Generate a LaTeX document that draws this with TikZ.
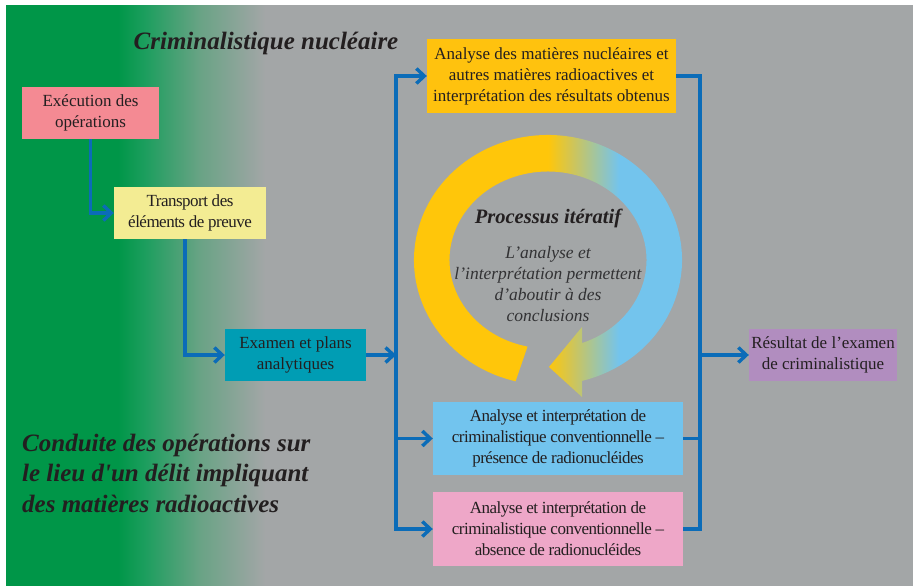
\documentclass[tikz,border=0pt]{standalone}
\usepackage{fontspec}
\setmainfont{Liberation Serif}
\newfontfamily\rawserif{Liberation Serif}[Ligatures=TeXOff]
\usetikzlibrary{arrows.meta}
\definecolor{bggreen}{RGB}{0,150,72}
\definecolor{bggreen2}{RGB}{28,158,94}
\definecolor{bggreen3}{RGB}{105,163,133}
\definecolor{bggray}{RGB}{163,166,167}
\definecolor{lineblue}{RGB}{11,108,184}
\definecolor{txt}{RGB}{35,31,32}
\definecolor{txttwo}{RGB}{50,50,52}
\definecolor{cexec}{RGB}{244,138,147}
\definecolor{ctransp}{RGB}{243,236,147}
\definecolor{cexam}{RGB}{0,157,180}
\definecolor{cnucl}{RGB}{255,194,14}
\definecolor{cpres}{RGB}{114,196,238}
\definecolor{cabs}{RGB}{238,167,200}
\definecolor{cres}{RGB}{177,141,191}
\definecolor{ringY}{RGB}{255,198,10}
\definecolor{ringB}{RGB}{115,196,237}
\pgfdeclarehorizontalshading{bgshade}{100bp}{color(0bp)=(bggreen); color(31.17bp)=(bggreen); color(32.66bp)=(bggreen2); color(35.69bp)=(bggreen3); color(39.28bp)=(bggray); color(100bp)=(bggray)}
\pgfdeclarehorizontalshading{ringshade}{100bp}{color(0bp)=(ringY); color(50bp)=(ringY); color(62bp)=(ringB); color(100bp)=(ringB)}
\tikzset{
  box/.style={inner sep=0pt, align=center, text=txt, font=\fontsize{17}{21}\selectfont},
  tight/.style={font=\fontsize{17}{21}\selectfont\addfontfeatures{LetterSpace=-3}},
  conn/.style={draw=lineblue, line width=3.4pt},
  arr/.style={conn, -{Straight Barb[length=8pt,width=15pt]}},
}
\begin{document}
\begin{tikzpicture}[x=1pt,y=-1pt]
\useasboundingbox (0,0) rectangle (913,586);
\fill[white] (0,0) rectangle (913,586);
\shade[shading=bgshade] (6,6) rectangle (913,586);

% iterative ring
\begin{scope}[shift={(548,260)}, yscale=-1]
\shade[shading=ringshade] (256:134 and 125) arc[start angle=256, end angle=-75.3, x radius=134, y radius=125]
  -- (34,-137) -- (1,-107) -- (34,-67) -- (-69.8:98.5 and 88.5)
  arc[start angle=-69.8, end angle=258, x radius=98.5, y radius=88.5] -- cycle;
\end{scope}

% titles
\node[font=\fontsize{25}{30}\selectfont\bfseries\itshape, text=txt] (title) at (266,43) {Criminalistique nucléaire};
\node[font=\rawserif\fontsize{25}{30.5}\selectfont\bfseries\itshape, text=txt, align=left, anchor=west, inner sep=0pt] (cond) at (22,473) {Conduite des opérations sur\\le lieu d'un délit impliquant\\des matières radioactives};
\node[font=\fontsize{20.5}{24}\selectfont\bfseries\itshape, text=txt] (proc) at (548,218) {Processus itératif};
\node[font=\fontsize{17.5}{21}\selectfont\itshape, text=txttwo, align=center] (expl) at (548,284.5) {L’analyse et\\l’interprétation permettent\\d’aboutir à des\\conclusions};

% boxes
\node[box, fill=cexec, minimum width=137, minimum height=52] (exec) at (90.5,113) {Exécution des\\opérations};
\node[box, tight, fill=ctransp, minimum width=152, minimum height=52] (transp) at (190,213) {Transport des\\éléments de preuve};
\node[box, fill=cexam, minimum width=141, minimum height=52] (exam) at (295.5,355) {Examen et plans\\analytiques};
\node[box, fill=cnucl, minimum width=249, minimum height=74] (nucl) at (551.5,76) {Analyse des matières nucléaires et\\autres matières radioactives et\\interprétation des résultats obtenus};
\node[box, tight, fill=cpres, minimum width=250, minimum height=73] (pres) at (558,438.5) {Analyse et interprétation de\\criminalistique conventionnelle –\\présence de radionucléides};
\node[box, tight, fill=cabs, minimum width=250, minimum height=74] (abs) at (558,529) {Analyse et interprétation de\\criminalistique conventionnelle –\\absence de radionucléides};
\node[box, fill=cres, minimum width=148, minimum height=52] (res) at (823,355) {Résultat de l’examen\\de criminalistique};

% connectors
\coordinate (lm) at (396,355);
\coordinate (rm) at (700,355);
\draw[arr] (exec.south) |- (transp.west);
\draw[arr] ([xshift=-5pt]transp.south) |- (exam.west);
\draw[arr] (exam.east) -- (lm);
\draw[arr] (lm) |- (nucl.west);
\draw[arr] (lm) |- (pres.west);
\draw[arr] (lm) |- (abs.west);
\draw[conn] (nucl.east) -| (rm);
\draw[conn] (pres.east) -| (rm);
\draw[conn] (abs.east) -| (rm);
\draw[arr] (rm) -- (res.west);
\end{tikzpicture}
\end{document}
